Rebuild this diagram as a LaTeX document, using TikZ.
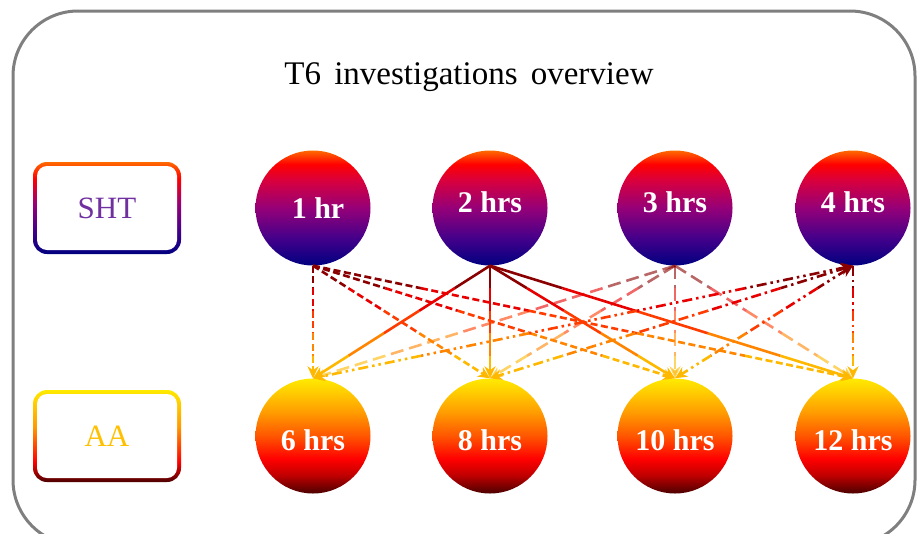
\documentclass[tikz,border=0pt]{standalone}
\usepackage{fontspec}
\setmainfont{Liberation Serif}
\usetikzlibrary{calc,arrows.meta,shapes.geometric}

% palette
\definecolor{frameGray}{HTML}{7F7F7F}
\definecolor{navyB}{HTML}{000080}
\definecolor{indigoB}{HTML}{45008A}
\definecolor{purpB}{HTML}{950078}
\definecolor{crimB}{HTML}{D8003E}
\definecolor{redB}{HTML}{FF0000}
\definecolor{orgB}{HTML}{FF6A00}
\definecolor{maroonA}{HTML}{4C0000}
\definecolor{dredA}{HTML}{C00000}
\definecolor{orgA}{HTML}{FF5500}
\definecolor{ambA}{HTML}{FF9A00}
\definecolor{goldA}{HTML}{FFCC00}
\definecolor{yelA}{HTML}{FFEA00}
\definecolor{shtText}{HTML}{7030A0}
\definecolor{aaText}{HTML}{FFC000}
% connector colours, top to bottom
\definecolor{cA}{HTML}{8A0000}
\definecolor{cB}{HTML}{E80000}
\definecolor{cC}{HTML}{FF3C00}
\definecolor{cD}{HTML}{FF8400}
\definecolor{cE}{HTML}{FFB800}

% vertical shadings (the path covers 25bp..75bp)
\pgfdeclareverticalshading{shtball}{100bp}{color(0bp)=(navyB); color(25bp)=(navyB); color(37bp)=(indigoB); color(50bp)=(purpB); color(62bp)=(crimB); color(69bp)=(redB); color(75bp)=(orgB); color(100bp)=(orgB)}
\pgfdeclareverticalshading{aaball}{100bp}{color(0bp)=(maroonA); color(25bp)=(maroonA); color(33bp)=(dredA); color(40bp)=(redB); color(50bp)=(orgA); color(60bp)=(ambA); color(69bp)=(goldA); color(75bp)=(yelA); color(100bp)=(yelA)}
\pgfdeclareverticalshading{shtframe}{100bp}{color(0bp)=(navyB); color(25bp)=(navyB); color(38bp)=(indigoB); color(52bp)=(purpB); color(66bp)=(redB); color(75bp)=(orgB); color(100bp)=(orgB)}
\pgfdeclareverticalshading{aaframe}{100bp}{color(0bp)=(maroonA); color(25bp)=(maroonA); color(36bp)=(redB); color(55bp)=(ambA); color(75bp)=(yelA); color(100bp)=(yelA)}

% gradient connector: #1 line style, #2 tip at start, #3 tip at end, #4 upper node, #5 lower node
\newcommand\gconn[5]{%
  \draw[conn,#1,cA,#2] (#4) -- ($(#4)!0.2!(#5)$);
  \draw[conn,#1,cB] ($(#4)!0.2!(#5)$) -- ($(#4)!0.4!(#5)$);
  \draw[conn,#1,cC] ($(#4)!0.4!(#5)$) -- ($(#4)!0.6!(#5)$);
  \draw[conn,#1,cD] ($(#4)!0.6!(#5)$) -- ($(#4)!0.8!(#5)$);
  \draw[conn,#1,cE,#3] ($(#4)!0.8!(#5)$) -- (#5);
}

\tikzset{
  ball/.style={circle, minimum size=115pt, inner sep=0pt, shade},
  topball/.style={ball, shading=shtball},
  lowball/.style={ball, shading=aaball},
  balltext/.style={text=white, font=\bfseries\fontsize{30}{34}\selectfont, inner sep=0pt},
  boxouter/.style={minimum width=148pt, minimum height=92pt, rounded corners=14pt, inner sep=0pt, shade},
  boxinner/.style={fill=white, minimum width=140pt, minimum height=84pt, rounded corners=10pt, inner sep=0pt, font=\fontsize{31}{36}\selectfont},
  conn/.style={line width=2.6pt},
  tipend/.style={-{Stealth[length=12pt,width=11pt]}},
  tipstart/.style={{Stealth[length=12pt,width=11pt]}-},
  notip/.style={},
  dashA/.style={dash pattern=on 7pt off 3.5pt},
  solidB/.style={solid},
  longC/.style={dash pattern=on 13pt off 6pt, opacity=0.6},
  dotD/.style={dash pattern=on 10pt off 4pt on 2.5pt off 4pt on 2.5pt off 4pt},
  dotE/.style={dash pattern=on 10pt off 4pt on 2.5pt off 4pt},
}

\begin{document}
\begin{tikzpicture}[x=1pt, y=-1pt]
  \useasboundingbox (0,0) rectangle (918,533);
  \begin{scope}
    \clip (0,0) rectangle (918,533);
    % outer frame
    \draw[frameGray, line width=3pt, rounded corners=65pt] (13,11) rectangle (915,545);
  \end{scope}

  % title
  \node[font=\fontsize{33}{38}\selectfont] (title) at (469,77) {T6\hspace{0.4em}investigations\hspace{0.4em}overview};

  % row labels
  \node[boxouter, shading=shtframe] (shtF) at (107,208) {};
  \node[boxinner, text=shtText] (sht) at (shtF) {SHT};
  \node[boxouter, shading=aaframe] (aaF) at (107,436) {};
  \node[boxinner, text=aaText] (aa) at (aaF) {AA};

  % SHT time points
  \node[topball] (c1) at (313,208) {};
  \node[topball] (c2) at (490,208) {};
  \node[topball] (c3) at (675,208) {};
  \node[topball] (c4) at (853,208) {};
  \node[balltext] (t1) at ($(c1)+(5,0)$) {1 hr};
  \node[balltext] (t2) at ($(c2)+(0,-6)$) {2 hrs};
  \node[balltext] (t3) at ($(c3)+(0,-6)$) {3 hrs};
  \node[balltext] (t4) at ($(c4)+(0,-6)$) {4 hrs};

  % AA time points
  \node[lowball] (b1) at (313,436) {};
  \node[lowball] (b2) at (490,436) {};
  \node[lowball] (b3) at (675,436) {};
  \node[lowball] (b4) at (853,436) {};
  \node[balltext] (u1) at ($(b1)+(0,4)$) {6 hrs};
  \node[balltext] (u2) at ($(b2)+(0,4)$) {8 hrs};
  \node[balltext] (u3) at ($(b3)+(0,4)$) {10 hrs};
  \node[balltext] (u4) at ($(b4)+(0,4)$) {12 hrs};

  % 1 hr
  \gconn{dashA}{notip}{tipend}{c1.south}{b1.north}
  \gconn{dashA}{notip}{tipend}{c1.south}{b2.north}
  \gconn{dashA}{notip}{tipend}{c1.south}{b3.north}
  \gconn{dashA}{notip}{tipend}{c1.south}{b4.north}
  % 2 hrs
  \gconn{solidB}{notip}{tipend}{c2.south}{b1.north}
  \gconn{solidB}{notip}{tipend}{c2.south}{b2.north}
  \gconn{solidB}{notip}{tipend}{c2.south}{b3.north}
  \gconn{solidB}{notip}{tipend}{c2.south}{b4.north}
  % 3 hrs
  \gconn{longC}{notip}{tipend}{c3.south}{b1.north}
  \gconn{longC}{notip}{tipend}{c3.south}{b2.north}
  \gconn{longC}{notip}{tipend}{c3.south}{b3.north}
  \gconn{longC}{notip}{tipend}{c3.south}{b4.north}
  % 4 hrs
  \gconn{dotD}{tipstart}{tipend}{c4.south}{b1.north}
  \gconn{dotE}{tipstart}{tipend}{c4.south}{b2.north}
  \gconn{dotD}{tipstart}{tipend}{c4.south}{b3.north}
  \gconn{dotE}{notip}{tipend}{c4.south}{b4.north}
\end{tikzpicture}
\end{document}
